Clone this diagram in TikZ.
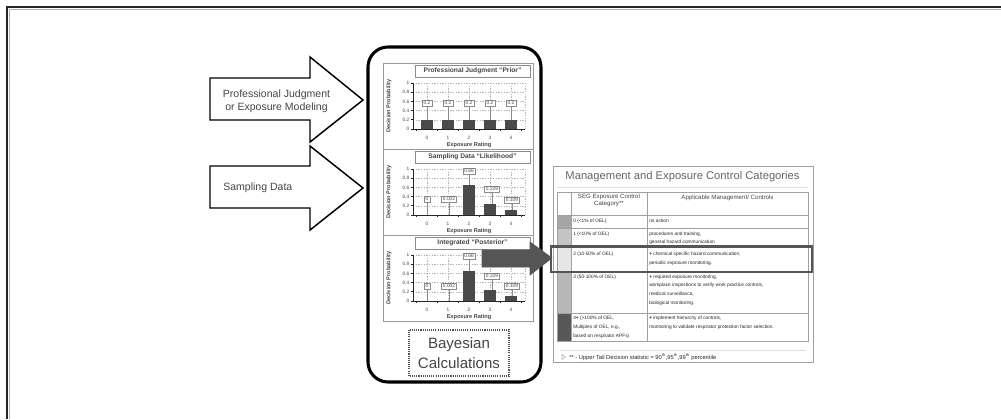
\documentclass[tikz,border=0pt]{standalone}
\usepackage{fontspec}
\setmainfont{Liberation Sans}
\usetikzlibrary{calc}
\definecolor{ink}{HTML}{262626}
\definecolor{txtgray}{HTML}{454545}
\definecolor{bargray}{HTML}{4A4A4A}
\definecolor{gridgray}{HTML}{B5B5B5}
\definecolor{tblline}{HTML}{A0A0A0}
\definecolor{darkarr}{HTML}{555555}
\definecolor{ttlgray}{HTML}{666666}
\definecolor{cat0}{HTML}{A6A6A6}
\definecolor{cat1}{HTML}{C4C4C4}
\definecolor{cat2}{HTML}{E6E6E6}
\definecolor{cat3}{HTML}{B8B8B8}
\definecolor{cat4}{HTML}{585858}
\tikzset{
  fatarrow/.style={draw=black, line width=1.1pt, fill=white, line join=miter},
  arrowtxt/.style={font=\fontsize{7.9}{9.8}\selectfont, text=txtgray, align=center, inner sep=0pt},
  bigframe/.style={draw=black, line width=2.3pt, rounded corners=15pt},
  panelbox/.style={draw=gray!80, line width=0.5pt, fill=white},
  titlebox/.style={draw=gray!90, line width=0.5pt, fill=white},
  charttitle/.style={font=\fontsize{5}{6}\selectfont\bfseries, text=txtgray, inner sep=0pt},
  gridln/.style={draw=gridgray, line width=0.4pt, dash pattern=on 1pt off 1pt},
  axisln/.style={draw=ink, line width=0.6pt},
  bar/.style={fill=bargray},
  ticklab/.style={font=\fontsize{3.6}{4}\selectfont, text=txtgray, inner sep=0pt},
  axtitle/.style={font=\fontsize{4.2}{5}\selectfont\bfseries, text=txtgray, inner sep=0pt},
  vlab/.style={draw=gray!90, line width=0.4pt, fill=white, font=\fontsize{3.6}{4}\selectfont, text=txtgray, inner sep=1.1pt},
  leader/.style={draw=gray!90, line width=0.4pt},
  bayesbox/.style={draw=darkarr, line width=1.1pt, dash pattern=on 0.8pt off 0.8pt},
  bayestxt/.style={font=\fontsize{11.3}{14.5}\selectfont, text=txtgray, align=center, inner sep=0pt},
  darkarrow/.style={fill=darkarr, draw=gray!70!black, line width=0.5pt},
  tblouter/.style={draw=tblline, line width=0.6pt, fill=white},
  tblgrid/.style={draw=tblline, line width=0.5pt},
  tbltitle/.style={font=\fontsize{8.4}{10}\selectfont, text=ttlgray, inner sep=0pt},
  tblhead/.style={font=\fontsize{4.6}{6}\selectfont, text=txtgray, inner sep=0pt, align=center},
  tbltxt/.style={font=\fontsize{3.6}{6.4}\selectfont, text=ink, inner sep=0pt, align=left, anchor=north west},
  foot/.style={font=\fontsize{4.3}{5}\selectfont, text=ink, inner sep=0pt, anchor=west},
  highlight/.style={draw=darkarr, line width=1.7pt}
}
\newcommand\drawpanel[5]{%
\begin{scope}[shift={(0,#1)}]
  \draw[panelbox] (383,63) rectangle (533,149);
  \draw[titlebox] (415,65) rectangle (530,77);
  \node[charttitle] (ttl#2) at (472.5,71) {#3};
  \foreach \v in {0.2,0.4,0.6,0.8,1} \draw[gridln] (413,{129-46*\v}) -- (525,{129-46*\v});
  \foreach \x in {427,448,469,490,511,525} \draw[gridln] (\x,83) -- (\x,129);
  \foreach \x/\v in {#4} \fill[bar] ({\x-6},129) rectangle ({\x+6},{129-46*\v});
  \draw[axisln] (413,83) -- (413,129) -- (525,129);
  \foreach \v [count=\k] in {0,0.2,0.4,0.6,0.8,1} {
    \draw[axisln] (410.8,{129-46*\v}) -- (413,{129-46*\v});
    \node[ticklab, anchor=east] (yt#2\k) at (409.5,{129-46*\v}) {\v};
  }
  \foreach \x in {416.5,437.5,458.5,479.5,500.5,521.5} \draw[axisln] (\x,129) -- (\x,131.3);
  \foreach \x/\t [count=\k] in {427/0,448/1,469/2,490/3,511/4}
    \node[ticklab] (xt#2\k) at (\x,137.5) {\t};
  \node[axtitle] (xl#2) at (469,145) {Exposure Rating};
  \node[axtitle, rotate=90] (yl#2) at (389,106) {Decision Probability};
  \foreach \x/\y/\v/\t [count=\k] in {#5} {
    \draw[leader] (\x,\y) -- (\x,{129-46*\v});
    \node[vlab] (lab#2\k) at (\x,\y) {\t};
  }
\end{scope}}
\begin{document}
\begin{tikzpicture}[x=0.75pt,y=-0.75pt]
\useasboundingbox (0,0) rectangle (1001,419);
% outer frame (top and left)
\draw[gray!60, line width=0.6pt] (8.9,419) -- (8.9,8.9) -- (1001,8.9);
\draw[ink, line width=1.7pt] (7,419) -- (7,7) -- (1001,7);

% input arrows
\draw[fatarrow] (210,78) -- (310,78) -- (310,57) -- (363,100) -- (310,142) -- (310,120) -- (210,120) -- cycle;
\node[arrowtxt] (pj) at (276.5,101.5) {Professional Judgment\\or Exposure Modeling};
\draw[fatarrow] (210,166) -- (310,166) -- (310,146) -- (363,188) -- (310,230) -- (310,208) -- (210,208) -- cycle;
\node[arrowtxt, anchor=west] (sd) at (223,188) {Sampling Data};

% Bayesian frame
\draw[bigframe] (368,47) rectangle (541,382);

\drawpanel{0}{a}{Professional Judgment “Prior”}{427/0.2,448/0.2,469/0.2,490/0.2,511/0.2}{427/103/0.2/0.2,448/103/0.2/0.2,469/103/0.2/0.2,490/103/0.2/0.2,511/103/0.2/0.2}
\drawpanel{86}{b}{Sampling Data “Likelihood”}{448/0.002,469/0.66,490/0.229,511/0.109}{427/113/0/0,449/113/0.002/0.002,469/85/0.66/0.66,492/103/0.229/0.229,512/114/0.109/0.109}
\drawpanel{172}{c}{Integrated “Posterior”}{448/0.002,469/0.66,490/0.229,511/0.109}{427/114/0/0,449/114/0.002/0.002,469/84/0.66/0.66,492/104/0.229/0.229,512/114/0.109/0.109}

\draw[bayesbox] (409,330) rectangle (509,376);
\node[bayestxt] (bc) at (459,353) {Bayesian\\Calculations};

% table
\draw[tblouter] (553,166) rectangle (813,362);
\node[tbltitle] (tt) at (682.5,176.5) {Management and Exposure Control Categories};
\draw[gray!25, line width=0.5pt] (557,187) -- (808,187);
\fill[white] (557,192) rectangle (808,341);
\fill[cat0] (557,215) rectangle (571,228);
\fill[cat1] (557,228) rectangle (571,246);
\fill[cat2] (557,246) rectangle (571,272);
\fill[cat3] (557,272) rectangle (571,313);
\fill[cat4] (557,313) rectangle (571,341);
\draw[tblgrid] (557,192) rectangle (808,341);
\draw[tblgrid] (571,192) -- (571,341) (647,192) -- (647,341);
\foreach \y in {215,228,246,272,313} \draw[tblgrid] (557,\y) -- (808,\y);
\node[tblhead] (h1) at (609,200.5) {SEG Exposure Control\\[-1.2pt]Category**};
\node[tblhead] (h2) at (727.5,197.5) {Applicable Management/ Controls};
\node[tbltxt] (c0) at (573,219.2) {0 (<1\% of OEL)};
\node[tbltxt] (m0) at (649,219.2) {no action};
\node[tbltxt] (c1) at (573,231.7) {1 (<10\% of OEL)};
\node[tbltxt] (m1) at (649,231.7) {procedures and training,\\general hazard communication};
\node[tbltxt] (c2) at (573,252.2) {2 (10-50\% of OEL)};
\node[tbltxt] (m2) at (649,252.2) {\textbf{+} chemical specific hazard communication,\\periodic exposure monitoring.};
\node[tbltxt] (c3) at (573,274.7) {3 (50-100\% of OEL)};
\node[tbltxt] (m3) at (649,274.7) {\textbf{+} required exposure monitoring,\\workplace inspections to verify work practice controls,\\medical surveillance,\\biological monitoring.};
\node[tbltxt] (c4) at (573,316.2) {4\textbf{+} (>100\% of OEL,\\Multiples of OEL, e.g.,\\based on respirator APFs)};
\node[tbltxt] (m4) at (649,316.2) {\textbf{+} implement hierarchy of controls,\\monitoring to validate respirator protection factor selection.};
\draw[gray!25, line width=0.5pt] (560,350) -- (806,350);
\draw[gray!60, line width=0.4pt] (562,354.5) -- (565.5,357) -- (562,359.5) -- cycle;
\node[foot] (fn) at (569,357) {** - Upper Tail Decision statistic = 90\textsuperscript{th},95\textsuperscript{th},99\textsuperscript{th} percentile};

% highlight and pointer arrow
\draw[highlight] (551,246.5) rectangle (812,272);
\draw[darkarrow] (482,250) -- (530,250) -- (530,242) -- (552,258) -- (530,275) -- (530,267) -- (482,267) -- cycle;
\end{tikzpicture}
\end{document}
